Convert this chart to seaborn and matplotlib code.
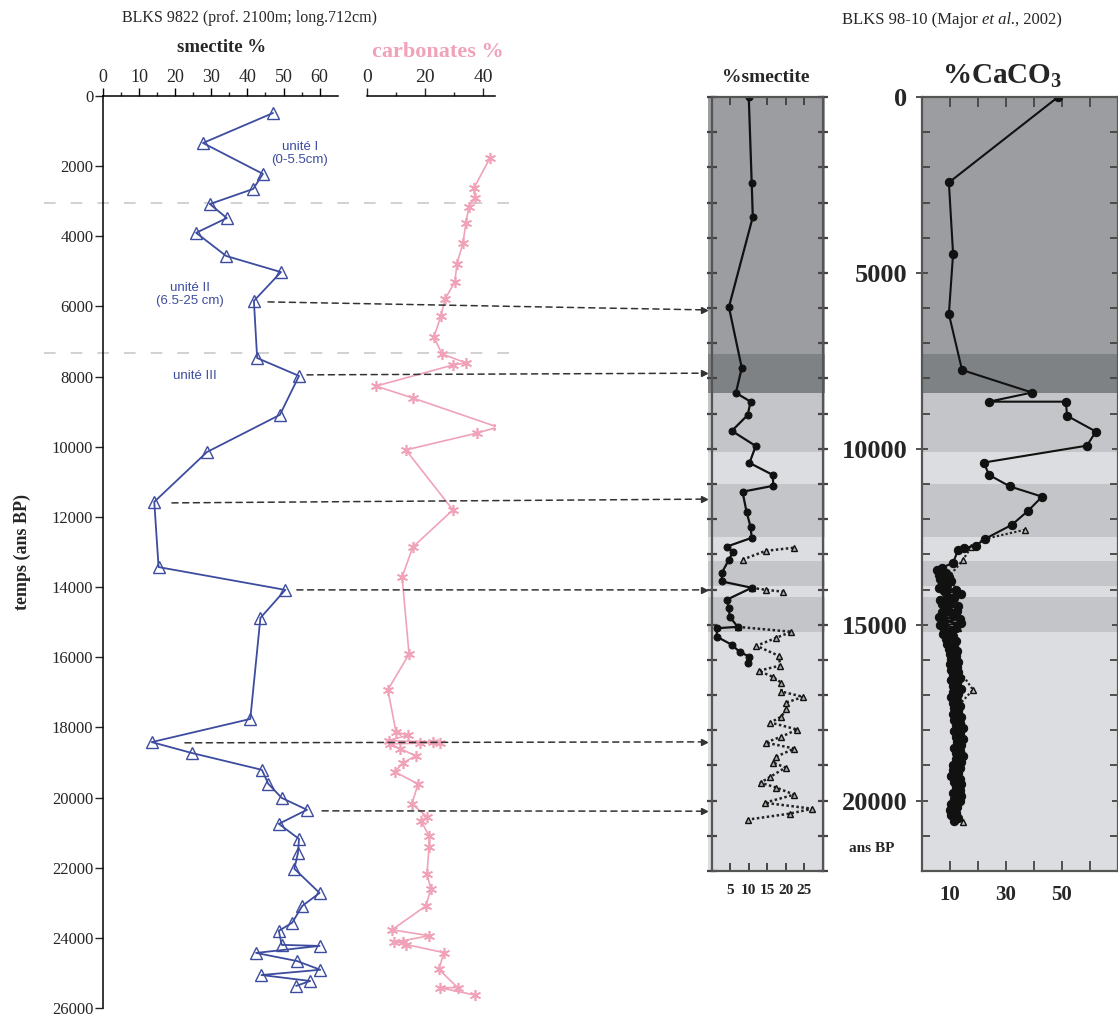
import numpy as np
import pandas as pd
import matplotlib.pyplot as plt
from matplotlib.patches import ConnectionPatch
import seaborn as sns

sns.set_style("ticks")
plt.rcParams['font.family'] = ['Liberation Serif', 'DejaVu Serif']
plt.rcParams['mathtext.fontset'] = 'custom'
plt.rcParams['mathtext.rm'] = 'Liberation Serif'
plt.rcParams['mathtext.it'] = 'Liberation Serif:italic'
plt.rcParams['mathtext.bf'] = 'Liberation Serif:bold'

# BLKS 9822 - smectite % (blue triangles)
smect_age = [485, 1340, 2220, 2650, 3080, 3480, 3900, 4560, 5020, 5840, 7470, 7980,
             9090, 10150, 11570, 13430, 14080, 14880, 17760, 18420, 18730, 19210,
             19610, 20010, 20350, 20750, 21180, 21580, 22030, 22720, 23090, 23570,
             23800, 24200, 24230, 24430, 24660, 24910, 25060, 25230, 25370]
smect_val = [47.1, 27.7, 44.3, 41.6, 29.6, 34.3, 25.8, 34.1, 49.3, 41.8, 42.7, 54.3,
             49.0, 28.8, 14.2, 15.4, 50.5, 43.6, 40.8, 13.5, 24.6, 44.0,
             45.8, 49.5, 56.5, 48.7, 54.3, 54.0, 53.0, 60.0, 55.2, 52.4,
             48.7, 49.5, 60.0, 42.4, 53.7, 60.2, 43.9, 57.4, 53.5]

# BLKS 9822 - carbonates % (pink stars)
carb_age = [1770, 2620, 2900, 3160, 3620, 4190, 4790, 5300, 5790, 6270, 6870, 7350,
            7610, 7670, 8270, 8610, 9440, 9610, 10090, 11800, 12860, 13710, 15910,
            16930, 18130, 18220, 18380, 18410, 18440, 18450, 18470, 18610, 18810,
            19010, 19270, 19610, 20180, 20550, 20660, 21090, 21400, 22170, 22610,
            23090, 23770, 23940, 24130, 24130, 24190, 24420, 24900, 25420, 25420, 25630]
carb_val = [42.4, 36.9, 37.2, 35.1, 34.1, 33.1, 31.0, 30.3, 26.9, 25.5, 23.1, 25.8,
            34.1, 29.6, 3.1, 15.8, 45.1, 37.9, 13.4, 29.6, 15.8, 12.1, 14.5,
            7.2, 10.0, 14.1, 7.5, 22.7, 25.1, 18.3, 7.9, 11.4, 16.9,
            12.4, 9.6, 17.6, 15.5, 20.7, 18.6, 21.4, 21.4, 20.7, 22.0,
            20.3, 8.6, 21.4, 9.3, 12.4, 13.4, 26.5, 24.8, 31.3, 25.1, 37.2]

# correlation arrows: BLKS 9822 age -> BLKS 98-10 age
tie_left_age = [5870, 7950, 11600, 14080, 18440, 20380]
tie_start_val = [45.7, 56.5, 19.1, 53.7, 22.7, 60.7]
tie_right_age = [6050, 7850, 11430, 14010, 18330, 20300]

unit_lines = [3050, 7330]

# BLKS 98-10 (Major et al., 2002) - %smectite
mid_age = [0, 2440, 3410, 5970, 7700, 8410, 8660, 9040, 9490, 9920, 10400, 10740,
           11050, 11220, 11790, 12220, 12530, 12780, 12930, 13150, 13520, 13770,
           13950, 14290, 14520, 14770, 15060, 15100, 15340, 15570, 15770, 15910, 16080]
mid_val = [10.0, 10.8, 11.1, 4.6, 8.1, 6.5, 10.5, 9.7, 5.4, 11.9, 10.2, 16.5,
           16.7, 8.3, 9.4, 10.5, 10.8, 4.0, 5.7, 4.6, 2.7, 2.7,
           10.8, 4.0, 4.6, 4.8, 7.0, 1.3, 1.3, 5.4, 7.5, 10.2, 9.7]

mid_tri_seg = [0, 0, 0, 1, 1, 1] + [2] * 30
mid_tri_age = [13150, 12900, 12810, 13950, 14010, 14060,
               15060, 15200, 15370, 15600, 15880, 16160, 16310, 16480, 16650, 16900,
               17050, 17220, 17390, 17610, 17780, 17980, 18180, 18350, 18520, 18750,
               18920, 19060, 19320, 19490, 19630, 19830, 20060, 20230, 20370, 20540]
mid_tri_val = [8.3, 14.6, 22.4, 10.8, 14.8, 19.4,
               7.0, 21.6, 17.5, 12.1, 18.1, 18.6, 12.7, 16.5, 18.9, 18.9,
               24.8, 20.0, 20.2, 18.9, 15.9, 23.2, 18.9, 14.6, 22.4, 17.5,
               16.7, 20.0, 15.9, 13.2, 17.5, 22.4, 14.3, 27.3, 21.1, 9.7]

# BLKS 98-10 - %CaCO3
caco3_age = [0, 2430, 4460, 6170, 7760, 8400, 8660, 8660, 9060, 9510, 9910, 10390,
             10740, 11070, 11360, 11760, 12160, 12560, 12750, 12820, 12870, 13240,
             13380, 13450, 13520, 13580, 13650, 13700, 13760, 13820, 13880, 13950,
             14000, 14050, 14120, 14180, 14230, 14300, 14360, 14420, 14480, 14540,
             14600, 14650, 14720, 14780, 14840, 14900, 14960, 15020, 15080, 15140,
             15200, 15260, 15330, 15400, 15470, 15540, 15600, 15680, 15750, 15820,
             15900, 15980, 16050, 16130, 16200, 16280, 16350, 16430, 16500, 16580,
             16660, 16740, 16820, 16900, 16980, 17060, 17140, 17220, 17300, 17380,
             17460, 17540, 17620, 17700, 17780, 17860, 17940, 18020, 18100, 18180,
             18260, 18340, 18420, 18500, 18580, 18660, 18740, 18820, 18900, 18980,
             19060, 19140, 19220, 19300, 19380, 19460, 19540, 19620, 19700, 19780,
             19860, 19940, 20020, 20100, 20180, 20260, 20340, 20420, 20500, 20580]
caco3_val = [48.6, 9.6, 11.1, 9.6, 14.3, 39.3, 23.9, 51.4, 51.8, 62.1, 58.9, 22.1,
             23.9, 31.4, 42.9, 37.9, 32.1, 22.5, 19.3, 15.0, 12.9, 11.1,
             7.1, 5.5, 8.5, 6.0, 9.5, 6.5, 10.5, 7.0, 9.0, 6.0,
             12.0, 8.0, 14.0, 9.0, 11.5, 6.5, 10.0, 7.0, 13.0, 8.5,
             12.5, 7.0, 11.0, 6.0, 13.5, 8.0, 14.0, 6.5, 12.0, 8.0,
             10.5, 7.5, 11.0, 8.5, 12.0, 9.0, 11.5, 9.5, 12.5, 10.0,
             12.0, 10.5, 13.0, 10.0, 12.5, 10.5, 13.0, 11.0, 13.5, 10.5,
             12.5, 11.0, 14.0, 11.0, 13.0, 10.5, 12.5, 11.0, 13.5, 11.5,
             13.0, 11.0, 14.0, 11.5, 13.5, 12.0, 14.5, 11.5, 13.5, 12.0,
             14.5, 12.5, 14.0, 11.5, 13.5, 12.0, 14.5, 12.0, 14.0, 11.0,
             13.5, 11.0, 13.0, 10.5, 13.5, 11.5, 14.0, 12.0, 13.5, 11.0,
             14.0, 11.5, 13.5, 10.5, 12.5, 10.0, 12.0, 10.5, 13.0, 11.5]

caco3_tri_age = [12300, 12560, 12800, 13160, 13600, 14100, 14600, 15100, 15600,
                 16200, 16850, 17300, 17900, 18500, 19100, 19700, 20300, 20600]
caco3_tri_val = [36.8, 22.5, 17.5, 14.6, 10.0, 12.5, 10.5, 13.0, 11.0,
                 12.5, 18.2, 13.0, 13.5, 14.0, 13.0, 14.0, 12.5, 14.5]

# grey shading of the BLKS 98-10 columns (age from, age to, colour)
band_start = [0, 7300, 8400, 10100, 11000, 12500, 13200, 13900, 14200, 15200]
band_end = [7300, 8400, 10100, 11000, 12500, 13200, 13900, 14200, 15200, 22000]
band_color = ['#9b9da0', '#7f8285', '#c4c5c8', '#dcdde0', '#c4c5c8', '#dcdde0',
              '#c4c5c8', '#dcdde0', '#c4c5c8', '#dcdde0']

BLUE = '#3d4c9e'
PINK = '#f0a2b8'
W, H = 1118, 1017


def fbox(x0, y0, x1, y1):
    return [x0 / W, 1 - y1 / H, (x1 - x0) / W, (y1 - y0) / H]


def ftext(x, y, s, **kw):
    return fig.text(x / W, 1 - y / H, s, **kw)


fig = plt.figure(figsize=(W / 100, H / 100), dpi=100)
axS = fig.add_axes(fbox(103, 96, 103 + 65 * 3.61, 1008))
axC = fig.add_axes(fbox(367, 96, 367 + 44 * 2.9, 1008))
axM = fig.add_axes(fbox(712, 97, 823, 871))
axR = fig.add_axes(fbox(922, 97, 1118, 871))

# ---- left column: BLKS 9822
sns.lineplot(x=smect_val, y=smect_age, ax=axS, sort=False, estimator=None,
             color=BLUE, lw=1.3, marker='^', ms=8, mfc='none', mec=BLUE, mew=1.0)
axS.set_xlim(0, 65)
axS.set_ylim(26000, 0)
axS.xaxis.set_ticks_position('top')
axS.set_xticks(range(0, 61, 10))
axS.set_xticks(range(5, 60, 10), minor=True)
axS.tick_params(axis='x', which='major', direction='out', length=6, width=1,
                labelsize=13, pad=1, color='k')
axS.tick_params(axis='x', which='minor', direction='out', length=3, width=1)
axS.set_yticks(range(0, 26001, 2000))
axS.tick_params(axis='y', direction='out', length=6, width=1, labelsize=12, pad=1)
axS.spines[['right', 'bottom']].set_visible(False)
for s in ['left', 'top']:
    axS.spines[s].set_color('k')
    axS.spines[s].set_linewidth(1.1)
axS.set_xlabel('')
axS.set_ylabel('')
axS.patch.set_alpha(0)

sns.lineplot(x=carb_val, y=carb_age, ax=axC, sort=False, estimator=None,
             color=PINK, lw=1.2, marker=(6, 2, 0), ms=8, mec=PINK, mew=1.2)
axC.set_xlim(0, 44)
axC.set_ylim(26000, 0)
axC.xaxis.set_ticks_position('top')
axC.set_xticks([0, 20, 40])
axC.set_xticks([10, 30], minor=True)
axC.tick_params(axis='x', which='major', direction='out', length=6, width=1,
                labelsize=14, pad=1)
axC.tick_params(axis='x', which='minor', direction='out', length=3, width=1)
axC.set_yticks([])
axC.spines[['left', 'right', 'bottom']].set_visible(False)
axC.spines['top'].set_color('k')
axC.spines['top'].set_linewidth(1.1)
axC.set_xlabel('')
axC.set_ylabel('')
axC.patch.set_alpha(0)

for a in unit_lines:
    axS.axhline(a, xmin=-0.25, xmax=1.74, color='#c9c9c9', lw=1.2,
                ls=(0, (7, 9)), clip_on=False, zorder=0)

axS.text(54.5, 1650, 'unité I\n(0-5.5cm)', color=BLUE, fontsize=9.5,
         family='Liberation Sans', ha='center', va='center', linespacing=1.1)
axS.text(24.0, 5650, 'unité II\n(6.5-25 cm)', color=BLUE, fontsize=9.5,
         family='Liberation Sans', ha='center', va='center', linespacing=1.1)
axS.text(25.5, 7980, 'unité III', color=BLUE, fontsize=9.5,
         family='Liberation Sans', ha='center', va='center')

ftext(250, 18, 'BLKS 9822 (prof. 2100m; long.712cm)', fontsize=11.5,
      ha='center', va='center')
ftext(222, 48, 'smectite %', fontsize=13.5, fontweight='bold', ha='center', va='center')
ftext(438, 52, 'carbonates %', fontsize=16, fontweight='bold', color=PINK,
      ha='center', va='center')
ftext(22, 552, 'temps (ans BP)', fontsize=13, fontweight='bold', rotation=90,
      ha='center', va='center')

# ---- middle column: BLKS 98-10 smectite
for a0, a1, c in zip(band_start, band_end, band_color):
    for ax in (axM, axR):
        ax.axhspan(a0, a1, xmin=-0.035 if ax is axM else 0, xmax=1.02 if ax is axM else 1,
                   color=c, lw=0, zorder=0, clip_on=False)

tri_df = pd.DataFrame({'age': mid_tri_age, 'val': mid_tri_val, 'seg': mid_tri_seg})
sns.lineplot(data=tri_df, x='val', y='age', units='seg', estimator=None, sort=False,
             ax=axM, color='#222222', lw=1.8, ls=(0, (1, 1)), marker='^', ms=5,
             mfc='#aaaaaa', mec='#111111', mew=1.0)
sns.lineplot(x=mid_val, y=mid_age, ax=axM, sort=False, estimator=None,
             color='#111111', lw=1.6, marker='o', ms=5, mec='#111111')
axM.set_xlim(0, 30.2)
axM.set_ylim(22000, 0)
axM.set_xticks([5, 10, 15, 20, 25])
axM.set_xticklabels(['5', '10', '15', '20', '25'])
axM.set_yticks(range(0, 22001, 1000))
axM.tick_params(axis='x', which='major', direction='in', length=6, width=1.4,
                top=True, bottom=True, labeltop=False, labelbottom=True,
                labelsize=11, pad=9, color='#444444')
axM.tick_params(axis='y', direction='inout', length=7, width=1.6, left=True,
                right=True, labelleft=False, color='#444444')
for lab in axM.get_xticklabels():
    lab.set_fontweight('bold')
for s in axM.spines.values():
    s.set_color('#555555')
    s.set_linewidth(1.6)
axM.set_xlabel('')
axM.set_ylabel('')
ftext(766, 78, '%smectite', fontsize=14, fontweight='bold', ha='center', va='center')

for a0, va, a1 in zip(tie_left_age, tie_start_val, tie_right_age):
    con = ConnectionPatch(xyA=(va, a0), coordsA=axS.transData,
                          xyB=(-2.6, a1), coordsB=axM.transData,
                          color='#333333', lw=1.1, ls=(0, (4, 3)))
    fig.add_artist(con)
    axM.plot(-2.3, a1, marker='>', ms=5, color='#333333', clip_on=False)

# ---- right column: %CaCO3
sns.lineplot(x=caco3_tri_val, y=caco3_tri_age, ax=axR, sort=False, estimator=None,
             color='#222222', lw=1.6, ls=(0, (1, 1)), marker='^', ms=5,
             mfc='#bbbbbb', mec='#111111', mew=1.0)
sns.lineplot(x=caco3_val, y=caco3_age, ax=axR, sort=False, estimator=None,
             color='#111111', lw=1.5, marker='o', ms=6, mec='#111111')
axR.set_xlim(0, 70)
axR.set_ylim(22000, 0)
axR.set_xticks(range(10, 61, 10))
axR.set_xticklabels(['10', '', '30', '', '50', ''])
axR.set_yticks(range(0, 20001, 5000))
axR.set_yticks(range(0, 22001, 1000), minor=True)
axR.tick_params(axis='x', direction='in', length=7, width=1.3, top=True, bottom=True,
                labeltop=False, labelbottom=True, labelsize=15, pad=10,
                color='#444444')
axR.tick_params(axis='y', which='major', direction='inout', length=9, width=1.3,
                left=True, right=True, labelsize=19, pad=6, color='#444444')
axR.tick_params(axis='y', which='minor', direction='in', length=6, width=1.3,
                left=True, right=True, color='#444444')
for lab in axR.get_yticklabels() + axR.get_xticklabels():
    lab.set_fontweight('bold')
for s in axR.spines.values():
    s.set_color('#555555')
    s.set_linewidth(1.6)
axR.set_xlabel('')
axR.set_ylabel('')
axR.text(-18, 21350, 'ans BP', fontsize=11, fontweight='bold', ha='center',
         va='center', clip_on=False)
ftext(1002, 76, '%CaCO$_\\mathbf{3}$', fontsize=21, fontweight='bold',
      ha='center', va='center')

# header with italic "et al."
t1 = ftext(842, 20, 'BLKS 98-10 (Major ', fontsize=12, ha='left', va='center')
t2 = fig.text(0, 0, 'et al.', fontsize=12, style='italic', ha='left', va='bottom',
              transform=fig.transFigure)
t2.remove()
t2 = fig.add_artist(plt.matplotlib.text.Annotation('et al.', xy=(1, 0), xycoords=t1,
                                                   fontsize=12, style='italic',
                                                   ha='left', va='bottom'))
t3 = fig.add_artist(plt.matplotlib.text.Annotation(', 2002)', xy=(1, 0), xycoords=t2,
                                                   fontsize=12, ha='left', va='bottom'))

fig.savefig('out.png', dpi=100)
